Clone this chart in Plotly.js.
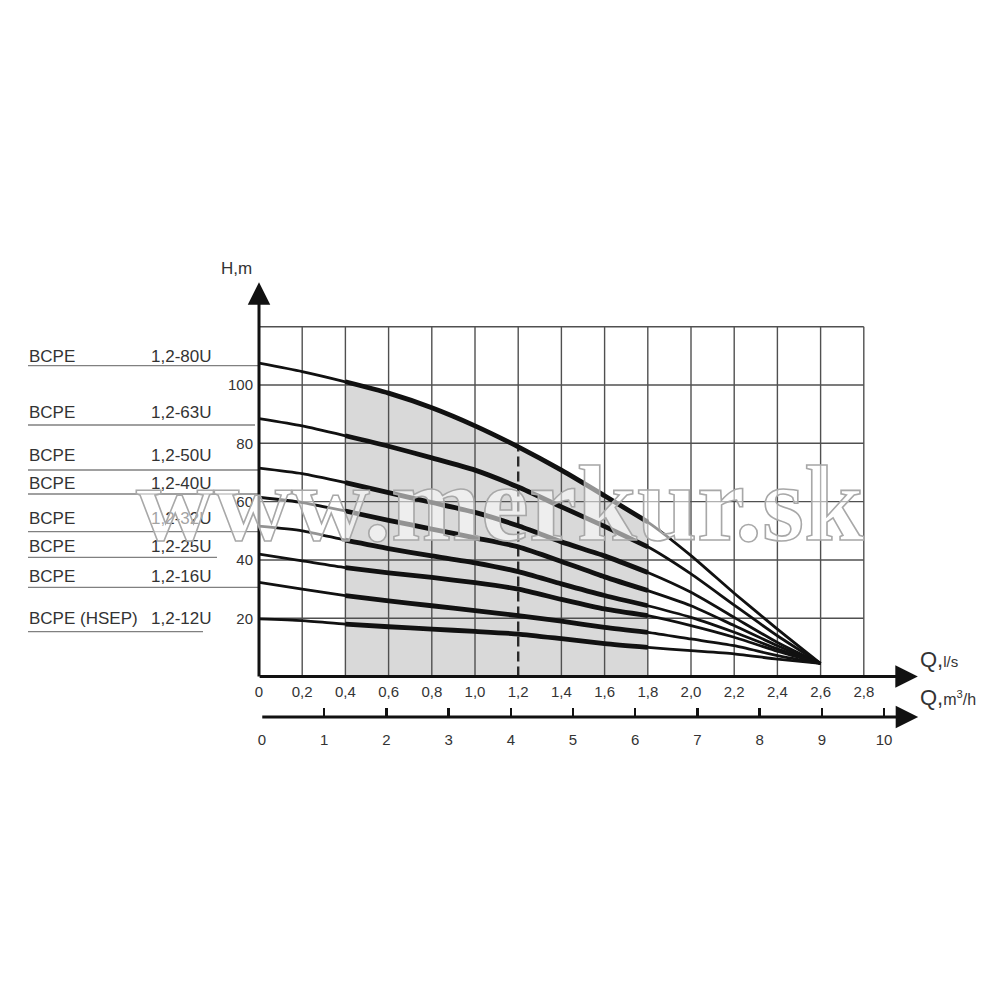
<!DOCTYPE html>
<html>
<head>
<meta charset="utf-8">
<script src="https://cdn.plot.ly/plotly-3.0.1.min.js"></script>
<style>html,body{margin:0;padding:0;background:#fff;}#chart{width:1000px;height:1000px;}</style>
</head>
<body>
<div id="chart"></div>
<script>
// ---- data ----
const qLs = [0, 0.2, 0.4, 0.6, 0.8, 1.0, 1.2, 1.4, 1.6, 1.8, 2.0, 2.2, 2.4, 2.6];
const h80U = [107.5, 104.6, 101.1, 97.2, 92.2, 86.0, 78.8, 70.8, 62.0, 53.0, 41.5, 28.6, 16.3, 4.5];
const h63U = [88.5, 86.0, 82.6, 79.0, 75.0, 70.8, 65.0, 58.2, 51.5, 44.5, 35.2, 24.5, 14.0, 4.5];
const h50U = [71.5, 69.6, 66.5, 63.1, 59.7, 56.3, 51.7, 46.2, 41.4, 35.7, 28.9, 20.3, 11.7, 4.5];
const h40U = [61.5, 59.7, 56.8, 53.6, 50.6, 47.6, 44.5, 39.5, 34.2, 29.5, 24.3, 17.5, 10.6, 4.5];
const h32U = [51.6, 50.0, 46.8, 43.9, 41.4, 39.0, 36.0, 31.8, 27.8, 24.3, 20.3, 15.2, 9.5, 4.5];
const h25U = [42.0, 39.7, 37.4, 35.6, 34.0, 32.2, 30.0, 26.5, 23.2, 20.9, 17.5, 13.5, 8.7, 4.5];
const h16U = [32.3, 30.0, 27.8, 26.0, 24.3, 22.6, 20.9, 19.0, 16.9, 15.2, 12.9, 10.6, 7.2, 4.5];
const h12U = [19.8, 19.2, 18.0, 17.1, 16.3, 15.5, 14.6, 13.0, 11.3, 10.0, 8.9, 7.8, 6.0, 4.5];

const labelPrefix = ['BCPE', 'BCPE', 'BCPE', 'BCPE', 'BCPE', 'BCPE', 'BCPE', 'BCPE (HSEP)'];
const labelModel = ['1,2-80U', '1,2-63U', '1,2-50U', '1,2-40U', '1,2-32U', '1,2-25U', '1,2-16U', '1,2-12U'];

const xTickVals = [0, 0.2, 0.4, 0.6, 0.8, 1.0, 1.2, 1.4, 1.6, 1.8, 2.0, 2.2, 2.4, 2.6, 2.8];
const xTickText = ['0', '0,2', '0,4', '0,6', '0,8', '1,0', '1,2', '1,4', '1,6', '1,8', '2,0', '2,2', '2,4', '2,6', '2,8'];
const yTickVals = [20, 40, 60, 80, 100];
const yTickText = ['20', '40', '60', '80', '100'];
const gridYVals = [20, 40, 60, 80, 100, 120];
const m3hTickVals = [0, 1, 2, 3, 4, 5, 6, 7, 8, 9, 10];
const m3hTickText = ['0', '1', '2', '3', '4', '5', '6', '7', '8', '9', '10'];

const workFrom = 0.4, workTo = 1.8, dutyQ = 1.2;
const gridXMax = 2.8, gridYMax = 120;

// ---- layout geometry (pixels on a 1000x1000 page) ----
const X0 = 259, PXLS = 216, XMAX = 3.05;
const Y0 = 676.6, PXM = 2.916, YMAX = 136;
const X2_0 = 262, PXM3 = 62.2, X2MAX = 10.55;
const X2Y = 717;

const FONT = 'Liberation Sans, Arial, sans-serif';
const TXT = '#333';
const INK = '#111';
const curves = [h80U, h63U, h50U, h40U, h32U, h25U, h16U, h12U];

const iFrom = qLs.indexOf(workFrom), iTo = qLs.indexOf(workTo), iDuty = qLs.indexOf(dutyQ);

const traces = [];
// shaded working range under the top curve
traces.push({
  x: qLs.slice(iFrom, iTo + 1), y: h80U.slice(iFrom, iTo + 1),
  mode: 'none', fill: 'tozeroy', fillcolor: '#d9d9d9',
  line: {shape: 'spline', smoothing: 0.6, width: 0},
  hoverinfo: 'skip', showlegend: false
});
// grid
const gx = [], gy = [];
xTickVals.slice(1).forEach(v => {
  const lo = (Math.abs(v - dutyQ) < 1e-9) ? h80U[iDuty] : 0;
  gx.push(v, v, null); gy.push(lo, gridYMax, null);
});
gridYVals.forEach(v => { gx.push(0, gridXMax, null); gy.push(v, v, null); });
traces.push({x: gx, y: gy, mode: 'lines', line: {color: '#505050', width: 1.4},
  hoverinfo: 'skip', showlegend: false});
// duty point dashed line
traces.push({x: [dutyQ, dutyQ], y: [0, h80U[iDuty]], mode: 'lines',
  line: {color: '#2a2a2a', width: 2.4, dash: '10px,5px'}, hoverinfo: 'skip', showlegend: false});
// curves
curves.forEach((h, k) => {
  traces.push({x: qLs, y: h, mode: 'lines', name: labelModel[k],
    line: {color: INK, width: 2.8, shape: 'spline', smoothing: 0.6}, showlegend: false});
  traces.push({x: qLs.slice(iFrom, iTo + 1), y: h.slice(iFrom, iTo + 1), mode: 'lines',
    line: {color: INK, width: 4.8, shape: 'spline', smoothing: 0.6}, hoverinfo: 'skip', showlegend: false});
});
// secondary axis holder
traces.push({x: m3hTickVals, y: m3hTickVals.map(() => null), xaxis: 'x2', yaxis: 'y',
  mode: 'markers', marker: {opacity: 0}, hoverinfo: 'skip', showlegend: false});

// label positions (px)
const labelTextY = [356, 412.7, 455, 483.3, 518.3, 546.7, 576, 618.3];
const labelLineY = [365.7, 425, 470, 494, 531.7, 557.3, 587.3, 631.7];
const labelLineX1 = [259, 255, 259, 259, 259, 217, 259, 203];
const py = p => 1 - p / 1000;

const annotations = [];
const shapes = [];
labelModel.forEach((m, k) => {
  annotations.push({xref: 'paper', yref: 'paper', x: 0.027, y: py(labelTextY[k]), xanchor: 'left', yanchor: 'middle',
    text: labelPrefix[k], showarrow: false, font: {family: FONT, size: 17, color: TXT}});
  annotations.push({xref: 'paper', yref: 'paper', x: 0.213, y: py(labelTextY[k]), xanchor: 'right', yanchor: 'middle',
    text: m, showarrow: false, font: {family: FONT, size: 17, color: TXT}});
  shapes.push({type: 'line', xref: 'paper', yref: 'paper', x0: 0.028, x1: labelLineX1[k] / 1000,
    y0: py(labelLineY[k]), y1: py(labelLineY[k]), line: {color: '#808080', width: 1.3}});
});
// axis arrows
const arrowBase = {text: '', showarrow: true, arrowhead: 2, arrowsize: 1.5, arrowwidth: 3, arrowcolor: INK, font: {size: 1}, standoff: 0, startstandoff: 0};
annotations.push(Object.assign({}, arrowBase, {xref: 'x', yref: 'y', axref: 'x', ayref: 'y', x: XMAX, y: 0, ax: -0.004, ay: 0}));
annotations.push(Object.assign({}, arrowBase, {xref: 'x', yref: 'y', axref: 'x', ayref: 'y', x: 0, y: 135.2, ax: 0, ay: -0.5}));
annotations.push(Object.assign({}, arrowBase, {xref: 'x2', yref: 'paper', axref: 'x2', ayref: 'pixel', x: X2MAX, y: py(X2Y), ax: -0.02, ay: 0}));
// axis titles
annotations.push({xref: 'paper', yref: 'paper', x: 0.236, y: py(268), xanchor: 'center', yanchor: 'middle',
  text: 'H,m', showarrow: false, font: {family: FONT, size: 17, color: TXT}});
annotations.push({xref: 'paper', yref: 'paper', x: 0.918, y: py(659), xanchor: 'left', yanchor: 'middle',
  text: 'Q,<span style="font-size:15px">l/s</span>', showarrow: false, font: {family: FONT, size: 22, color: TXT}});
annotations.push({xref: 'paper', yref: 'paper', x: 0.918, y: py(697), xanchor: 'left', yanchor: 'middle',
  text: 'Q,<span style="font-size:16px">m<sup>3</sup>/h</span>', showarrow: false, font: {family: FONT, size: 22, color: TXT}});
// watermark
annotations.push({xref: 'paper', yref: 'paper', x: 0.5, y: py(503), xanchor: 'center', yanchor: 'middle',
  text: 'www.merkur.sk', showarrow: false,
  font: {family: 'Liberation Serif, serif', size: 108, weight: 'bold', color: 'rgba(255,255,255,0.55)'}});

const layout = {
  width: 1000, height: 1000,
  margin: {l: 0, r: 0, t: 0, b: 0},
  paper_bgcolor: '#fff', plot_bgcolor: 'rgba(0,0,0,0)',
  showlegend: false,
  xaxis: {domain: [X0 / 1000, (X0 + XMAX * PXLS) / 1000], range: [0, XMAX], showgrid: false, zeroline: false,
    showline: false, ticks: '', tickvals: xTickVals, ticktext: xTickText, automargin: false,
    tickfont: {family: FONT, size: 15, color: TXT}, ticklabelstandoff: 4},
  yaxis: {domain: [py(Y0), py(Y0 - YMAX * PXM)], range: [0, YMAX], showgrid: false, zeroline: false,
    showline: false, ticks: '', tickvals: yTickVals, ticktext: yTickText, automargin: false,
    tickfont: {family: FONT, size: 15, color: TXT}, ticklabelstandoff: 5},
  xaxis2: {domain: [X2_0 / 1000, (X2_0 + X2MAX * PXM3) / 1000], range: [0, X2MAX], anchor: 'free', position: py(X2Y),
    showgrid: false, zeroline: false, showline: false, ticks: 'inside', ticklen: 9, tickwidth: 2.5, tickcolor: INK,
    tickvals: m3hTickVals, ticktext: m3hTickText, automargin: false,
    tickfont: {family: FONT, size: 15, color: TXT}, ticklabelstandoff: 12},
  annotations: annotations,
  shapes: shapes
};

Plotly.newPlot('chart', traces, layout, {displayModeBar: false, staticPlot: true}).then(() => {
  document.querySelectorAll('.annotation-text').forEach(el => {
    if (el.textContent === 'www.merkur.sk') {
      el.style.stroke = '#a8a8a8';
      el.style.strokeWidth = '1.6px';
    }
  });
});
</script>
</body>
</html>
